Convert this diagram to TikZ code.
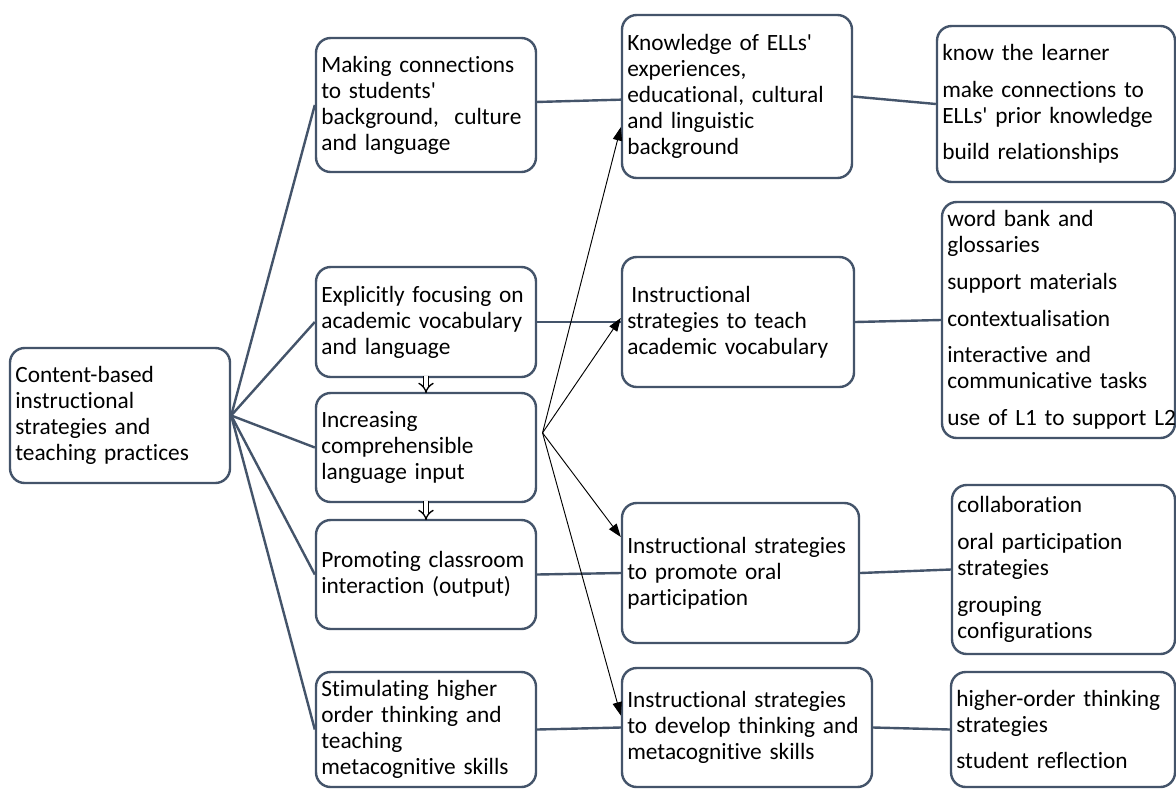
\documentclass[tikz,border=0pt]{standalone}
\usepackage{fontspec}
\setmainfont{Carlito}[Ligatures=NoCommon]
\usepackage{tikz}
\usetikzlibrary{arrows.meta}
\definecolor{slate}{RGB}{68,84,106}
\newcommand{\q}{\textquotesingle}

\begin{document}
\begin{tikzpicture}[
	x=0.75pt, y=-0.75pt,
	box/.style={draw=slate, line width=1.8pt, rounded corners=11pt, align=left, inner xsep=4pt, inner ysep=0pt, fill=white, font=\fontsize{17.5}{19.5}\selectfont},
	link/.style={slate, line width=1.8pt},
	arrow/.style={-{Triangle[length=10pt, width=7pt]}, black, line width=0.7pt},
	hollow/.style={-{Implies}, double, double distance=3pt, line width=1pt, black}
]
	\fill[white] (0,0) rectangle (1176,789);
	\useasboundingbox (0,0) rectangle (1176,789);

	% root
	\node (root) [box, text width=157pt, minimum height=101.25pt] at (120,415.5) {Content-based\\instructional\\strategies and\\teaching practices};

	% practices
	\node (making) [box, text width=157pt, minimum height=100.5pt] at (426,105) {Making connections\\to students\q\\background,~ culture\\and language};
	\node (vocab) [box, text width=157pt, minimum height=82.5pt] at (426,322) {Explicitly focusing on\\academic vocabulary\\and language};
	\node (input) [box, text width=157pt, minimum height=81.75pt] at (426,447.5) {Increasing\\comprehensible\\language input};
	\node (output) [box, text width=157pt, minimum height=81.75pt] at (426,574.5) {Promoting classroom\\interaction (output)};
	\node (thinking) [box, text width=157pt, minimum height=86.25pt] at (426,729.5) {Stimulating higher\\order thinking and\\teaching\\metacognitive skills};

	% strategies
	\node (know) [box, text width=164.5pt, minimum height=122.25pt] at (737,96.5) {Knowledge of ELLs\q\\experiences,\\educational, cultural\\and linguistic\\background};
	\node (teach) [box, text width=166pt, minimum height=97.5pt] at (738,322) {\hspace{3pt}Instructional\\strategies to teach\\academic vocabulary};
	\node (oral) [box, text width=169.75pt, minimum height=105pt] at (740.5,573) {\mbox{Instructional strategies}\\to promote oral\\participation};
	\node (meta) [box, text width=179.5pt, minimum height=89.25pt] at (747,727.5) {Instructional strategies\\to develop thinking and\\metacognitive skills};

	% examples
	\node (learner) [box, text width=170.5pt, minimum height=117pt] at (1056,104) {know the learner\\[8pt]make connections to\\ELLs\q\ prior knowledge\\[8pt]build relationships};
	\node (words) [box, text width=166.75pt, minimum height=177pt] at (1058.5,320) {word bank and\\glossaries\\[8pt]support materials\\[8pt]contextualisation\\[8pt]interactive and\\communicative tasks\\[8pt]\mbox{use of L1 to support L2}};
	\node (collab) [box, text width=159.25pt, minimum height=126.75pt] at (1063.5,569.5) {collaboration\\[8pt]oral participation\\strategies\\[8pt]grouping\\configurations};
	\node (reflect) [box, text width=160pt, minimum height=86.25pt] at (1063,729.5) {higher-order thinking\\strategies\\[8pt]student reflection};

	\foreach \n in {making, vocab, input, output, thinking}
		\draw[link] (root.east) -- (\n.west);
	\draw[link] (making) -- (know);
	\draw[link] (vocab) -- (teach);
	\draw[link] (output.east) -- (oral.west);
	\draw[link] (thinking.east) -- (meta.west);
	\draw[link] (know.east) -- (learner.west);
	\draw[link] (teach.east) -- (words.west);
	\draw[link] (oral.east) -- (collab.west);
	\draw[link] (meta.east) -- (reflect.west);

	\coordinate (hub) at ([xshift=4pt, yshift=11pt]input.east);
	\draw[arrow] (hub) -- ([yshift=-23pt]know.west);
	\draw[arrow] (hub) -- ([yshift=3pt]teach.west);
	\draw[arrow] (hub) -- ([yshift=27pt]oral.west);
	\draw[arrow] (hub) -- ([yshift=9pt]meta.west);

	\draw[hollow] ([yshift=2pt]vocab.south) -- ([yshift=-1pt]input.north);
	\draw[hollow] ([yshift=2pt]input.south) -- ([yshift=-1pt]output.north);

\end{tikzpicture}
\end{document}
